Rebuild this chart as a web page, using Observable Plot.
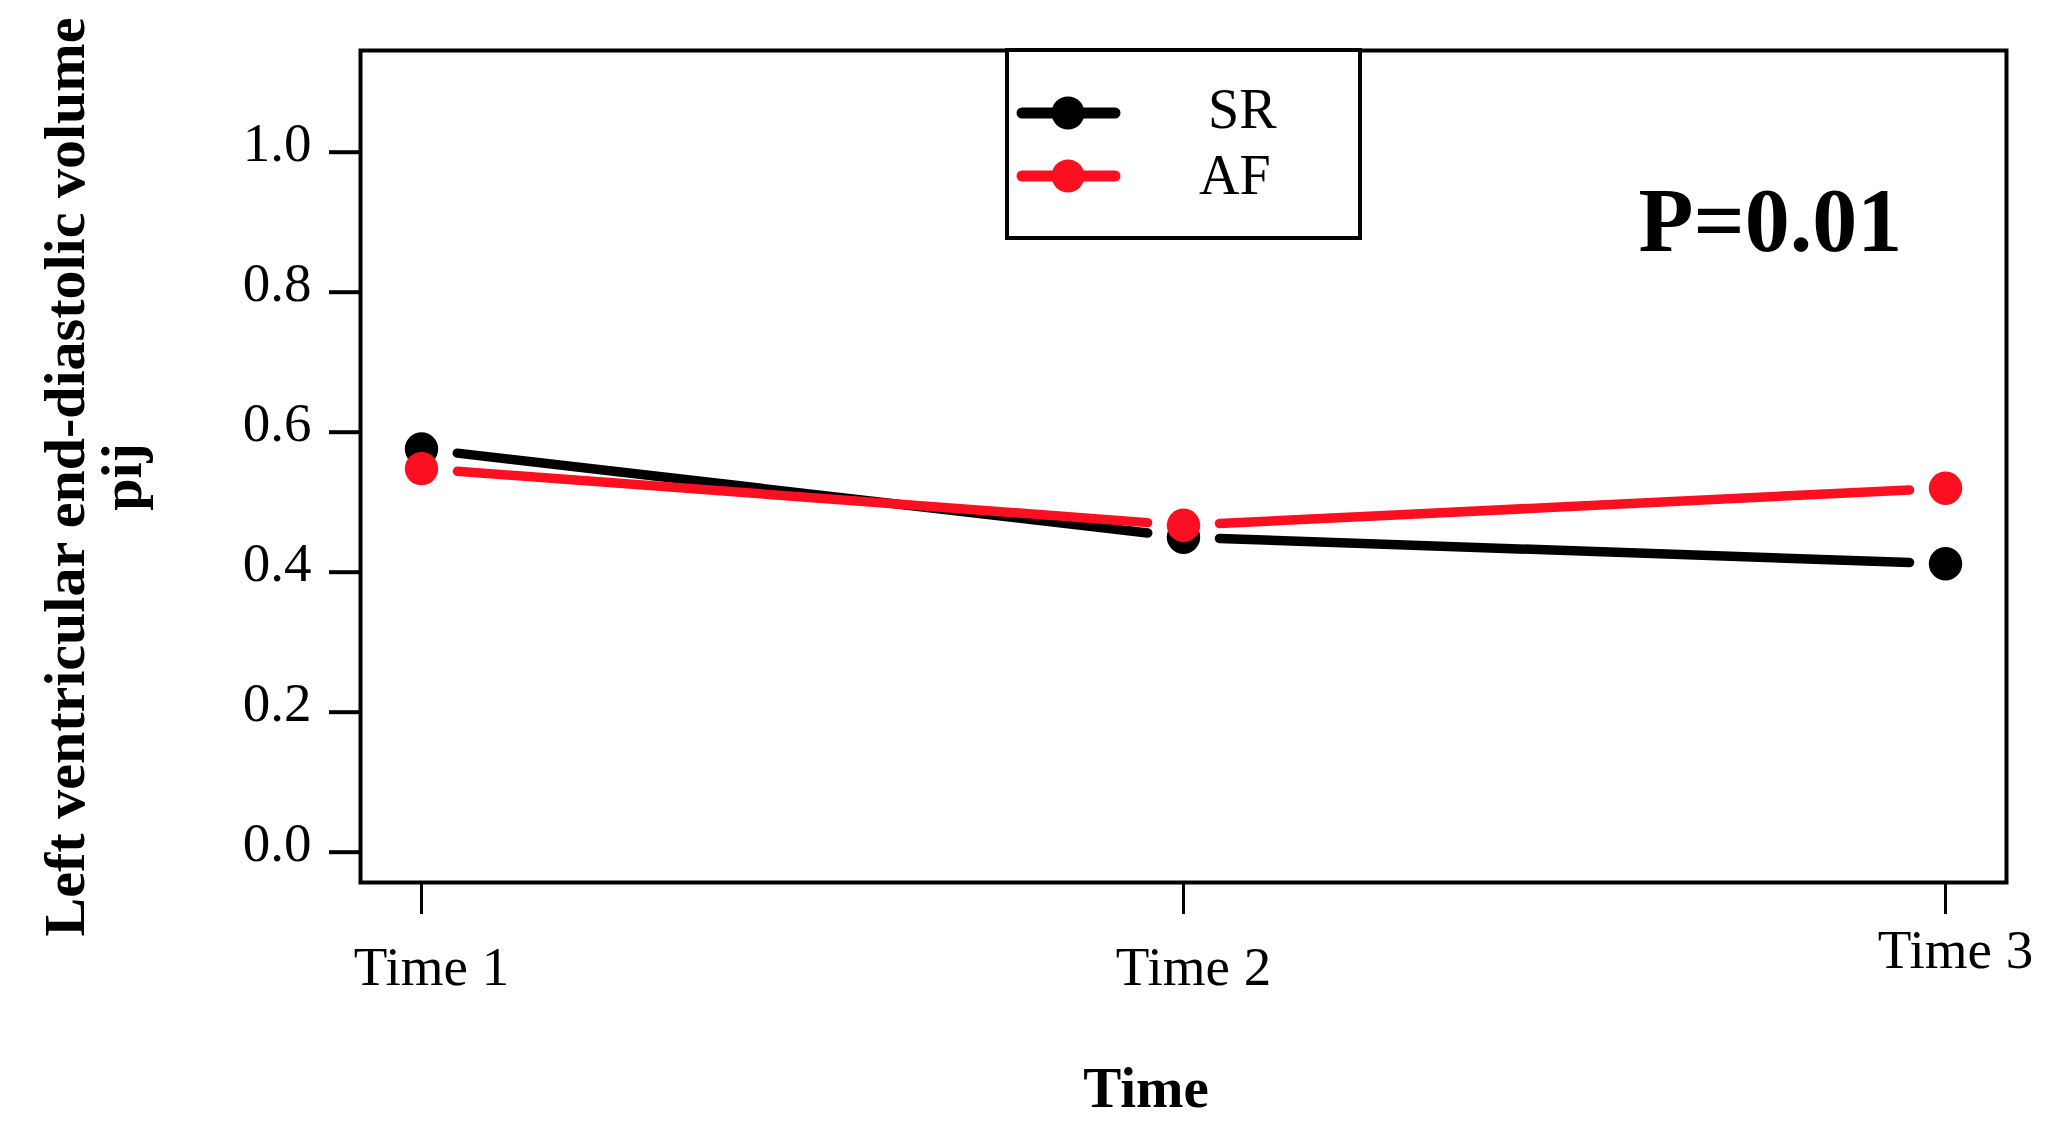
<!DOCTYPE html>
<html>
<head>
<meta charset="utf-8">
<script src="https://cdn.jsdelivr.net/npm/d3@7"></script>
<script src="https://cdn.jsdelivr.net/npm/@observablehq/plot@0.6"></script>
<style>
  html, body { margin: 0; padding: 0; background: #ffffff; }
  #wrap { position: relative; width: 2046px; height: 1122px; }
  #wrap > svg.legend { position: absolute; left: 0; top: 0; pointer-events: none; }
</style>
</head>
<body>
<div id="wrap"></div>
<script>
// ---- data ----
const times = ["Time 1", "Time 2", "Time 3"];
const seriesNames = ["SR", "AF"];
const seriesColors = ["#000000", "#fb0f20"];
const srValues = [0.576, 0.450, 0.412];
const afValues = [0.548, 0.467, 0.520];
const yTicks = [0.0, 0.2, 0.4, 0.6, 0.8, 1.0];
const yLabelLines = ["Left ventricular end-diastolic volume", "pij"];
const xLabel = "Time";
const pText = "P=0.01";

// ---- tables built from the arrays ----
const seriesValues = { SR: srValues, AF: afValues };
const points = seriesNames.flatMap(s =>
  times.map((t, i) => ({ series: s, time: t, value: seriesValues[s][i] })));
const segments = seriesNames.flatMap(s =>
  times.slice(1).map((t, i) => ({
    series: s, t1: times[i], t2: t,
    v1: seriesValues[s][i], v2: seriesValues[s][i + 1]
  })));

const FONT = "'Liberation Serif', 'Times New Roman', Times, serif";

const seriesMarks = seriesNames.flatMap(s => [
  Plot.arrow(segments.filter(d => d.series === s), {
    x1: "t1", y1: "v1", x2: "t2", y2: "v2",
    stroke: "series", strokeWidth: 9.5, headLength: 0,
    insetStart: 36, insetEnd: 36, strokeLinecap: "round"
  }),
  Plot.dot(points.filter(d => d.series === s), {
    x: "time", y: "value", fill: "series", r: 16.7
  })
]);

const chart = Plot.plot({
  width: 2046,
  height: 1122,
  marginLeft: 360,
  marginRight: 40,
  marginTop: 50,
  marginBottom: 240,
  style: { fontFamily: FONT, fontSize: "55px", color: "#000", background: "#fff" },
  x: { type: "point", domain: times, padding: 0.08 },
  y: { domain: [-0.0433, 1.1453] },
  color: { domain: seriesNames, range: seriesColors },
  marks: [
    // y axis ticks and labels
    Plot.axisY(yTicks, { tickSize: 31, strokeWidth: 4, fill: "none", label: null }),
    Plot.axisY(yTicks, { tickSize: 0, tickPadding: 49, dy: -9, tickFormat: d3.format(".1f"), label: null }),
    // x axis ticks and labels
    Plot.axisX(times, { tickSize: 32, strokeWidth: 3, fill: "none", label: null }),
    Plot.axisX(times.slice(0, 2), { tickSize: 0, tickPadding: 63, dx: 10, label: null }),
    Plot.axisX(times.slice(2), { tickSize: 0, tickPadding: 46, dx: 10, label: null }),
    Plot.frame({ stroke: "#000", strokeWidth: 4 }),
    ...seriesMarks,
    // axis titles
    Plot.text([yLabelLines[0]], {
      frameAnchor: "left", text: d => d, rotate: -90, textAnchor: "middle",
      lineAnchor: "bottom", dx: -277, dy: 10.5, fontWeight: "bold", fontSize: 58
    }),
    Plot.text([yLabelLines[1]], {
      frameAnchor: "left", text: d => d, rotate: -90, textAnchor: "middle",
      lineAnchor: "bottom", dx: -220, dy: 10.5, fontWeight: "bold", fontSize: 58
    }),
    Plot.text([xLabel], {
      frameAnchor: "bottom", text: d => d, textAnchor: "middle",
      lineAnchor: "bottom", dx: -37.5, dy: 224, fontWeight: "bold", fontSize: 57
    }),
    // p-value annotation
    Plot.text([pText], {
      frameAnchor: "top-left", text: d => d, textAnchor: "start",
      lineAnchor: "bottom", dx: 1278, dy: 200, fontWeight: "bold", fontSize: 90
    })
  ]
});

const wrap = document.getElementById("wrap");
wrap.appendChild(chart);

// ---- legend (box with line + dot swatches) ----
const legend = d3.create("svg")
  .attr("class", "legend")
  .attr("width", 2046).attr("height", 1122);
legend.append("rect")
  .attr("x", 1007).attr("y", 50).attr("width", 353).attr("height", 188)
  .attr("fill", "#fff").attr("stroke", "#000").attr("stroke-width", 4);
const items = legend.selectAll("g.item").data(seriesNames).join("g")
  .attr("class", "item")
  .attr("transform", (d, i) => `translate(0, ${i * 63})`);
items.append("line")
  .attr("x1", 1022).attr("x2", 1115).attr("y1", 113).attr("y2", 113)
  .attr("stroke", (d, i) => seriesColors[i]).attr("stroke-width", 11)
  .attr("stroke-linecap", "round");
items.append("circle")
  .attr("cx", 1068).attr("cy", 113).attr("r", 16.5)
  .attr("fill", (d, i) => seriesColors[i]);
items.append("text")
  .attr("x", (d, i) => 1208 - i * 9).attr("y", (d, i) => 128 + i * 3)
  .attr("font-family", FONT).attr("font-size", 56)
  .attr("fill", "#000")
  .text(d => d);
wrap.appendChild(legend.node());
</script>
</body>
</html>
